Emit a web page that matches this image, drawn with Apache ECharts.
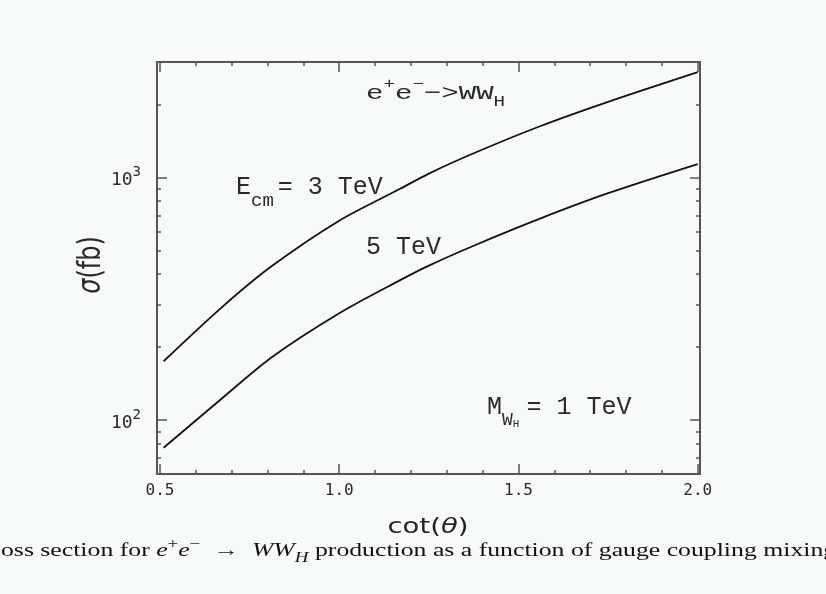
<!DOCTYPE html>
<html>
<head>
<meta charset="utf-8">
<script src="https://cdn.jsdelivr.net/npm/echarts@6/dist/echarts.min.js"></script>
<style>
html,body{margin:0;padding:0;background:#f6faf8;}
#chart{width:826px;height:594px;}
</style>
</head>
<body>
<div id="chart"></div>
<script>
// ---- data ----
const cotTheta3 = [0.51, 0.67, 0.81, 1.00, 1.17, 1.25, 1.38, 1.56, 1.75, 2.00];
const sigma3TeV = [175, 290, 430, 665, 900, 1040, 1270, 1630, 2055, 2725];
const cotTheta5 = [0.51, 0.67, 0.81, 1.00, 1.17, 1.25, 1.38, 1.56, 1.75, 2.00];
const sigma5TeV = [77, 122, 181, 276, 378, 434, 528, 678, 863, 1138];

const xMajorTicks = [0.5, 1.0, 1.5, 2.0];
const xMinorTicks = [0.6, 0.7, 0.8, 0.9, 1.1, 1.2, 1.3, 1.4, 1.6, 1.7, 1.8, 1.9];
const yMajorTicks = [100, 1000];
const yMinorTicks = [60, 70, 80, 90, 200, 300, 400, 500, 600, 700, 800, 900, 2000, 3000];
const xRange = [0.4916, 2.0064];
const yRange = [60, 3000];

const frameColor = '#555';
const textColor = '#2a2a2a';
const monoFont = '"Liberation Mono", monospace';
const tickFont = '"DejaVu Sans Mono", monospace';

function pairs(xs, ys) { return xs.map((x, i) => [x, ys[i]]); }

function xAxisDef(position, ticks, len, showLine, showLabel) {
  return {
    type: 'value', position: position, min: xRange[0], max: xRange[1],
    axisLine: { show: showLine, lineStyle: { color: frameColor, width: 2 } },
    axisTick: { show: true, inside: true, length: len, customValues: ticks,
                lineStyle: { color: frameColor, width: 1.5 } },
    axisLabel: showLabel ? {
      show: true, customValues: ticks, margin: 9,
      formatter: v => Number(v).toFixed(1),
      fontFamily: tickFont, fontSize: 16, color: textColor
    } : { show: false },
    splitLine: { show: false }
  };
}
function yAxisDef(position, ticks, len, showLine, showLabel) {
  return {
    type: 'log', logBase: 10, position: position, min: yRange[0], max: yRange[1],
    axisLine: { show: showLine, lineStyle: { color: frameColor, width: 2 } },
    axisTick: { show: true, inside: true, length: len, customValues: ticks,
                lineStyle: { color: frameColor, width: 1.5 } },
    axisLabel: showLabel ? {
      show: true, customValues: ticks, margin: 16,
      formatter: v => '{b|10}{s|' + Math.round(Math.log10(v)) + '}',
      rich: {
        b: { fontFamily: tickFont, fontSize: 18, color: textColor, lineHeight: 24, verticalAlign: 'bottom' },
        s: { fontFamily: tickFont, fontSize: 14, color: textColor, lineHeight: 14, verticalAlign: 'top' }
      }
    } : { show: false },
    splitLine: { show: false }
  };
}

const chart = echarts.init(document.getElementById('chart'), null, { renderer: 'canvas' });

const option = {
  backgroundColor: '#f6faf8',
  animation: false,
  grid: { left: 157, right: 126, top: 62, bottom: 120, containLabel: false },
  xAxis: [
    xAxisDef('bottom', xMajorTicks, 10, true, true),
    xAxisDef('bottom', xMinorTicks, 4, false, false),
    xAxisDef('top', xMajorTicks, 10, true, false),
    xAxisDef('top', xMinorTicks, 4, false, false)
  ],
  yAxis: [
    yAxisDef('left', yMajorTicks, 10, true, true),
    yAxisDef('left', yMinorTicks, 4, false, false),
    yAxisDef('right', yMajorTicks, 10, true, false),
    yAxisDef('right', yMinorTicks, 4, false, false)
  ],
  series: [
    { name: 'Ecm = 3 TeV', type: 'line', xAxisIndex: 0, yAxisIndex: 0,
      data: pairs(cotTheta3, sigma3TeV), smooth: 0.3,
      showSymbol: false, lineStyle: { color: '#111', width: 1.8 } },
    { name: 'Ecm = 5 TeV', type: 'line', xAxisIndex: 0, yAxisIndex: 0,
      data: pairs(cotTheta5, sigma5TeV), smooth: 0.3,
      showSymbol: false, lineStyle: { color: '#111', width: 1.8 } }
  ],
  graphic: [
    { // reaction label
      type: 'text', x: 366, y: 93.5, scaleX: 1.38, silent: true,
      style: {
        text: '{m|e}{p|+}{m|e}{p|\u2212}{m|\u2212>WW}{q|H}',
        align: 'left', verticalAlign: 'middle',
        rich: {
          m: { fontFamily: monoFont, fontSize: 21, lineHeight: 32, fill: textColor },
          p: { fontFamily: monoFont, fontSize: 14, lineHeight: 16, verticalAlign: 'top', fill: textColor },
          q: { fontFamily: monoFont, fontSize: 14, lineHeight: 16, verticalAlign: 'bottom', fill: textColor }
        }
      }
    },
    { // E_cm = 3 TeV
      type: 'text', x: 236, y: 187, silent: true,
      style: {
        text: '{m|E}{q|cm}{m|= 3 TeV}',
        align: 'left', verticalAlign: 'middle',
        rich: {
          m: { fontFamily: monoFont, fontSize: 25, lineHeight: 46, fill: textColor },
          q: { fontFamily: monoFont, fontSize: 19, lineHeight: 22, verticalAlign: 'bottom', padding: [0, 4, 0, 0], fill: textColor }
        }
      }
    },
    { // 5 TeV
      type: 'text', x: 366, y: 247.5, silent: true,
      style: { text: '5 TeV', align: 'left', verticalAlign: 'middle',
               fontFamily: monoFont, fontSize: 25, fill: textColor }
    },
    { // M_WH = 1 TeV
      type: 'text', x: 487, y: 407.5, silent: true,
      style: {
        text: '{m|M}{q|W}{r|H}{m|= 1 TeV}',
        align: 'left', verticalAlign: 'middle',
        rich: {
          m: { fontFamily: monoFont, fontSize: 25, lineHeight: 44, fill: textColor },
          q: { fontFamily: monoFont, fontSize: 18, lineHeight: 22, verticalAlign: 'bottom', fill: textColor },
          r: { fontFamily: monoFont, fontSize: 11, lineHeight: 13, verticalAlign: 'bottom', padding: [0, 7, 0, 0], fill: textColor }
        }
      }
    },
    { // y axis title
      type: 'text', x: 92, y: 265, rotation: Math.PI / 2, scaleY: 1.3, silent: true,
      style: {
        text: '{i|\u03c3}{n|(fb)}', align: 'center', verticalAlign: 'middle',
        rich: {
          i: { fontFamily: '"DejaVu Sans"', fontStyle: 'italic', fontSize: 24, fill: textColor },
          n: { fontFamily: '"DejaVu Sans"', fontSize: 24, fill: textColor }
        }
      }
    },
    { // x axis title
      type: 'text', x: 428, y: 527, scaleX: 1.25, silent: true,
      style: {
        text: '{n|cot(}{i|\u03b8}{n|)}', align: 'center', verticalAlign: 'middle',
        rich: {
          n: { fontFamily: '"DejaVu Sans"', fontSize: 22, fill: '#222' },
          i: { fontFamily: '"DejaVu Sans"', fontStyle: 'italic', fontSize: 22, fill: '#222' }
        }
      }
    },
    { // caption (clipped at the page edges as in the reference)
      type: 'text', x: 1, y: 551, scaleX: 1.355, silent: true,
      style: {
        text: '{n|oss section for }{i|e}{p|+}{i|e}{p|\u2212}{n|  \u2192  }{i|WW}{s|H}{n| production as a function of gauge coupling mixing}',
        align: 'left', verticalAlign: 'middle',
        rich: {
          n: { fontFamily: '"Liberation Serif", serif', fontSize: 19, lineHeight: 28, fill: '#111' },
          i: { fontFamily: '"Liberation Serif", serif', fontStyle: 'italic', fontSize: 19, lineHeight: 28, fill: '#111' },
          p: { fontFamily: '"Liberation Serif", serif', fontSize: 14, lineHeight: 16, verticalAlign: 'top', fill: '#111' },
          s: { fontFamily: '"Liberation Serif", serif', fontStyle: 'italic', fontSize: 14, lineHeight: 16, verticalAlign: 'bottom', fill: '#111' }
        }
      }
    }
  ]
};
chart.setOption(option);
</script>
</body>
</html>
